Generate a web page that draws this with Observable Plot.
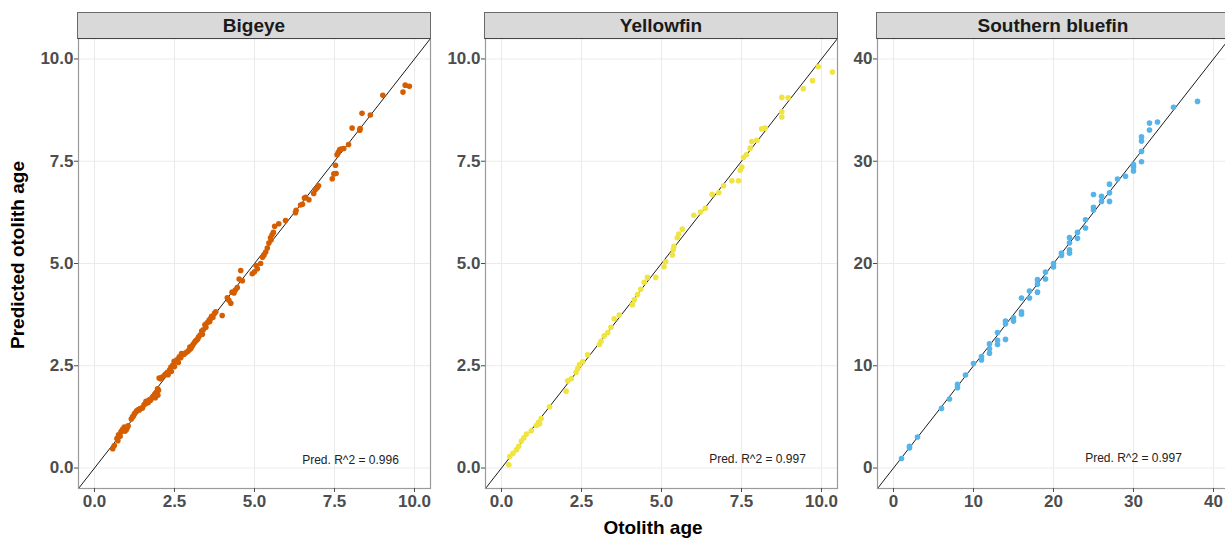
<!DOCTYPE html>
<html>
<head>
<meta charset="utf-8">
<script src="https://cdn.jsdelivr.net/npm/d3@7"></script>
<script src="https://cdn.jsdelivr.net/npm/@observablehq/plot@0.6"></script>
<style>
  html, body { margin: 0; padding: 0; background: #fff; overflow: hidden; }
  #chart { position: relative; width: 1225px; height: 541px; overflow: hidden; background: #fff;
           font-family: "Liberation Sans", Arial, Helvetica, sans-serif; }
  .pan { position: absolute; top: 0; }
  .strip { position: absolute; top: 12px; height: 25px; background: #d9d9d9; border: 1px solid #6a6a6a;
           border-bottom-color: #444; box-sizing: content-box; text-align: center; line-height: 26px;
           font-weight: bold; font-size: 19px; color: #1a1a1a; }
  .ytitle { position: absolute; left: 18px; top: 255px; transform: translate(-50%, -50%) rotate(-90deg);
            white-space: nowrap; font-weight: bold; font-size: 19px; color: #000; }
  .xtitle { position: absolute; left: 653px; top: 528px; transform: translate(-50%, -50%);
            white-space: nowrap; font-weight: bold; font-size: 19px; color: #000; }
</style>
</head>
<body>
<div id="chart"></div>
<script>
// ---------- data ----------
const panelNames = ["Bigeye", "Yellowfin", "Southern bluefin"];
const panelColors = ["#D55E00", "#F0E442", "#56B4E9"];
const r2Labels = ["Pred. R^2 = 0.996", "Pred. R^2 = 0.997", "Pred. R^2 = 0.997"];

const bigeyeObs = [0.57,0.62,0.70,0.73,0.75,0.80,0.83,0.88,0.93,0.95,0.99,1.02,1.05,1.15,1.19,1.22,1.25,1.30,1.32,1.37,1.40,1.42,1.45,1.50,1.55,1.60,1.61,1.65,1.68,1.71,1.75,1.78,1.82,1.85,1.88,1.90,1.92,1.95,1.97,1.98,2.00,2.02,2.06,2.10,2.18,2.22,2.28,2.30,2.35,2.39,2.40,2.45,2.49,2.50,2.55,2.60,2.62,2.65,2.70,2.72,2.75,2.80,2.85,2.91,2.95,2.98,3.01,3.05,3.08,3.12,3.15,3.18,3.22,3.25,3.30,3.35,3.37,3.40,3.45,3.48,3.52,3.58,3.60,3.62,3.66,3.70,3.75,3.79,3.99,4.15,4.20,4.26,4.30,4.36,4.40,4.46,4.52,4.57,4.62,4.93,5.00,5.05,5.09,5.19,5.25,5.30,5.35,5.40,5.45,5.50,5.52,5.55,5.59,5.63,5.76,5.97,6.28,6.30,6.44,6.50,6.56,6.60,6.70,6.85,6.90,6.96,7.00,7.43,7.48,7.53,7.55,7.58,7.62,7.66,7.70,7.79,7.94,8.05,8.29,8.30,8.36,8.62,9.01,9.64,9.71,9.84];
const bigeyePred = [0.47,0.55,0.72,0.67,0.81,0.78,0.89,0.95,1.00,0.90,0.93,0.98,1.03,1.20,1.25,1.28,1.33,1.37,1.40,1.43,1.42,1.45,1.46,1.47,1.55,1.58,1.63,1.62,1.60,1.67,1.66,1.70,1.74,1.76,1.80,1.72,1.84,1.86,1.94,1.78,1.90,2.20,2.18,2.22,2.26,2.30,2.34,2.28,2.40,2.47,2.36,2.52,2.61,2.48,2.62,2.66,2.58,2.72,2.70,2.80,2.78,2.78,2.82,2.85,2.88,2.96,2.92,2.98,3.02,3.06,3.10,3.12,3.15,3.20,3.25,3.35,3.27,3.38,3.50,3.44,3.55,3.61,3.58,3.65,3.71,3.68,3.78,3.82,3.73,4.16,4.10,4.03,4.30,4.28,4.35,4.41,4.62,4.83,4.58,4.75,4.80,4.95,4.87,5.00,5.15,5.21,5.28,5.38,5.50,5.63,5.58,5.70,5.76,5.91,5.97,6.05,6.24,6.30,6.43,6.45,6.60,6.62,6.56,6.71,6.80,6.85,6.90,7.07,7.19,7.40,7.20,7.66,7.72,7.78,7.80,7.81,7.91,8.31,8.26,8.30,8.67,8.63,9.11,9.19,9.36,9.33];

const yellowfinObs = [0.23,0.26,0.36,0.47,0.54,0.62,0.70,0.78,0.93,1.09,1.16,1.19,1.24,1.50,2.02,2.07,2.18,2.33,2.38,2.44,2.54,2.69,3.06,3.11,3.21,3.32,3.42,3.52,3.68,4.09,4.15,4.25,4.35,4.46,4.56,4.82,5.08,5.13,5.34,5.37,5.39,5.49,5.54,5.65,6.01,6.22,6.37,6.58,6.79,6.94,7.20,7.41,7.46,7.51,7.56,7.65,7.77,7.82,7.98,8.13,8.24,8.76,8.76,8.76,8.96,9.43,9.72,9.90,10.34];
const yellowfinPred = [0.08,0.28,0.36,0.45,0.53,0.66,0.74,0.83,0.91,1.04,1.12,1.08,1.21,1.50,1.88,2.13,2.18,2.34,2.43,2.53,2.60,2.77,3.02,3.10,3.23,3.31,3.44,3.65,3.74,3.99,4.11,4.24,4.37,4.54,4.66,4.66,4.92,5.04,5.21,5.34,5.42,5.63,5.72,5.84,6.18,6.26,6.35,6.69,6.73,6.90,7.02,7.02,7.28,7.36,7.59,7.66,7.82,7.98,8.01,8.29,8.31,8.58,8.71,9.06,9.05,9.27,9.47,9.81,9.68];

const bluefinObs = [1,2,2,3,6,7,8,8,9,10,11,11,12,12,12,13,13,13,14,14,14,15,15,16,16,16,17,17,18,18,18,19,19,20,20,21,21,22,22,22,22,23,23,24,24,25,25,25,26,26,27,27,27,28,29,30,30,30,31,31,31,31,32,32,33,35,38];
const bluefinPred = [0.94,1.96,2.12,3.04,5.83,6.75,7.86,8.20,9.10,10.22,10.56,10.89,11.23,11.67,12.14,12.07,12.48,13.25,12.58,14.10,14.37,14.37,14.70,15.28,15.04,16.63,16.63,17.30,17.20,17.98,18.42,18.48,19.16,19.66,20.00,20.78,21.01,21.01,21.35,22.02,22.53,22.46,23.04,23.47,24.28,25.23,25.50,26.75,26.07,26.58,26.07,26.91,27.76,28.26,28.53,29.04,29.44,29.68,29.95,30.96,31.97,32.38,33.05,33.73,33.83,35.28,35.85];

const axisLimits = [[-0.5, 10.5], [-0.5, 10.5], [-2, 42]];
const tickValues = [[0, 2.5, 5, 7.5, 10], [0, 2.5, 5, 7.5, 10], [0, 10, 20, 30, 40]];
const tickFormats = [d3.format(".1f"), d3.format(".1f"), d3.format("d")];
const r2X = [8, 8, 30];
const r2Y = [0.2, 0.22, 0.95];

const obsList = [bigeyeObs, yellowfinObs, bluefinObs];
const predList = [bigeyePred, yellowfinPred, bluefinPred];

// ---------- layout ----------
const layout = [
  {left: 0,   width: 440, ml: 78, mr: 10},
  {left: 440, width: 400, ml: 45, mr: 3},
  {left: 840, width: 389, ml: 37, mr: 0}
];

const chart = document.getElementById("chart");
const font = "'Liberation Sans', Arial, Helvetica, sans-serif";

panelNames.forEach((name, i) => {
  const L = layout[i];
  const lim = axisLimits[i];
  const data = obsList[i].map((o, k) => ({obs: o, pred: predList[i][k]}));
  const svg = Plot.plot({
    width: L.width,
    height: 541,
    marginTop: 38,
    marginBottom: 53,
    marginLeft: L.ml,
    marginRight: L.mr,
    style: {fontFamily: font, background: "transparent", overflow: "visible"},
    x: {domain: lim, label: null},
    y: {domain: lim, label: null},
    marks: [
      Plot.gridX(tickValues[i], {stroke: "#ebebeb", strokeOpacity: 1, strokeWidth: 1.1}),
      Plot.gridY(tickValues[i], {stroke: "#ebebeb", strokeOpacity: 1, strokeWidth: 1.1}),
      Plot.link([lim], {x1: d => d[0], y1: d => d[0], x2: d => d[1], y2: d => d[1],
                        stroke: "#1a1a1a", strokeWidth: 1, clip: true}),
      Plot.dot(data, {x: "obs", y: "pred", r: 2.8, fill: panelColors[i], stroke: "none"}),
      Plot.text([r2Labels[i]], {x: r2X[i], y: r2Y[i], text: d => d, fontSize: 12, fill: "#222",
                                textAnchor: "middle"}),
      Plot.frame({stroke: "#9a9a9a", strokeWidth: 1.2}),
      Plot.axisX(tickValues[i], {tickFormat: tickFormats[i], fontSize: 17, fontWeight: "bold",
                                 color: "#4d4d4d", tickSize: 4, tickPadding: 2, label: null}),
      Plot.axisY(tickValues[i], {tickFormat: tickFormats[i], fontSize: 17, fontWeight: "bold",
                                 color: "#4d4d4d", tickSize: 4, tickPadding: 1, label: null})
    ]
  });
  svg.classList.add("pan");
  svg.style.left = L.left + "px";
  chart.appendChild(svg);

  const strip = document.createElement("div");
  strip.className = "strip";
  strip.style.left = (L.left + L.ml - 1) + "px";
  strip.style.width = (L.width - L.ml - L.mr) + "px";
  strip.textContent = name;
  chart.appendChild(strip);
});

const yt = document.createElement("div");
yt.className = "ytitle";
yt.textContent = "Predicted otolith age";
chart.appendChild(yt);

const xt = document.createElement("div");
xt.className = "xtitle";
xt.textContent = "Otolith age";
chart.appendChild(xt);
</script>
</body>
</html>
